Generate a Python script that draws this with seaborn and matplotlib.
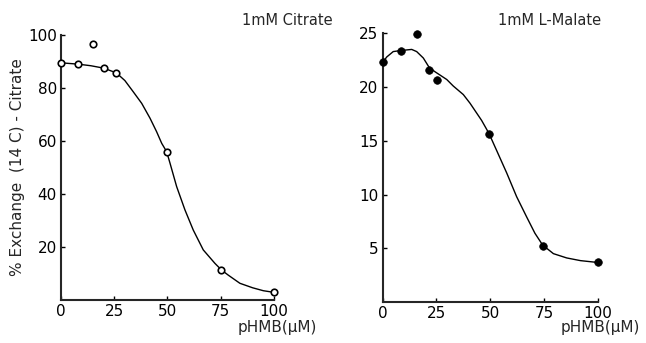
import numpy as np
import pandas as pd
import seaborn as sns
import matplotlib.pyplot as plt

# Citrate panel - measured points
cit_x = [0, 8, 15, 20, 26, 50, 75, 100]
cit_y = [89.5, 89, 96.5, 87.5, 85.5, 56, 11.3, 2.9]
# Citrate panel - fitted curve
cit_curve_x = [0, 8, 14, 20, 26, 30, 33.9, 37.9, 41.8, 44.9, 47.3, 49.6, 51.2,
               54.3, 58.2, 62.1, 66.8, 72.3, 75.4, 78.5, 84, 90, 95, 99]
cit_curve_y = [89.5, 89, 88.4, 87.5, 85.7, 82.8, 78.6, 74.2, 68.6, 63.5, 59.1, 56, 51.6,
               42.8, 34, 26.4, 18.9, 13.8, 11.3, 9.4, 6.3, 4.6, 3.5, 3.0]

# Malate panel - measured points
mal_x = [0, 8.5, 16, 21.7, 25.4, 49.6, 74.5, 100]
mal_y = [22.3, 23.4, 24.9, 21.6, 20.7, 15.6, 5.2, 3.7]
# Malate panel - fitted curve
mal_curve_x = [0, 1.9, 4.9, 8.5, 13.5, 15.8, 18.9, 21.7, 24.5, 29.8, 32.8, 37.5, 40.6,
               46, 49.4, 53, 57.7, 62.3, 67, 70.8, 74.4, 79.4, 85.6, 92, 99]
mal_curve_y = [22.3, 22.8, 23.3, 23.4, 23.5, 23.3, 22.7, 21.8, 21.4, 20.7, 20.1, 19.3, 18.5,
               16.9, 15.7, 14.1, 12.0, 9.8, 7.9, 6.4, 5.3, 4.5, 4.1, 3.85, 3.7]

x_ticks = [0, 25, 50, 75, 100]
cit_yticks = [20, 40, 60, 80, 100]
mal_yticks = [5, 10, 15, 20, 25]

sns.set_style("ticks")
plt.rcParams['font.family'] = ['DejaVu Sans']

fig = plt.figure(figsize=(6.46, 3.43), dpi=100)
ax1 = fig.add_axes([0.0944, 0.1254, 0.3297, 0.7726])
ax2 = fig.add_axes([0.5924, 0.1195, 0.3328, 0.7834])

# left panel
sns.lineplot(x=cit_curve_x, y=cit_curve_y, ax=ax1, color="black", lw=1.0)
sns.scatterplot(x=cit_x, y=cit_y, ax=ax1, marker="o", s=22,
                facecolor="white", edgecolor="black", linewidth=1.2,
                zorder=3, clip_on=False)
ax1.set_xlim(0, 100)
ax1.set_ylim(0, 100)
ax1.set_yticks(cit_yticks)
ax1.set_ylabel("% Exchange  (14 C) - Citrate", fontsize=11, labelpad=2)

# right panel
sns.lineplot(x=mal_curve_x, y=mal_curve_y, ax=ax2, color="black", lw=1.0)
sns.scatterplot(x=mal_x, y=mal_y, ax=ax2, marker="o", s=30,
                color="black", edgecolor="black", linewidth=0.5,
                zorder=3, clip_on=False)
ax2.set_xlim(0, 100)
ax2.set_ylim(0, 25)
ax2.set_yticks(mal_yticks)

for ax in (ax1, ax2):
    ax.set_xticks(x_ticks)
    sns.despine(ax=ax)
    ax.spines["left"].set_linewidth(1.5)
    ax.spines["bottom"].set_linewidth(1.5)
    ax.tick_params(direction="in", length=3, width=1, labelsize=11, pad=3,
                   colors="black")
    ax.set_xlabel("")

fig.text(0.445, 0.94, "1mM Citrate", fontsize=10.5, ha="center", va="center")
fig.text(0.85, 0.94, "1mM L-Malate", fontsize=10.5, ha="center", va="center")
fig.text(0.43, 0.045, "pHMB(μM)", fontsize=11, ha="center", va="center")
fig.text(0.93, 0.045, "pHMB(μM)", fontsize=11, ha="center", va="center")

fig.savefig("out.png", dpi=100)
